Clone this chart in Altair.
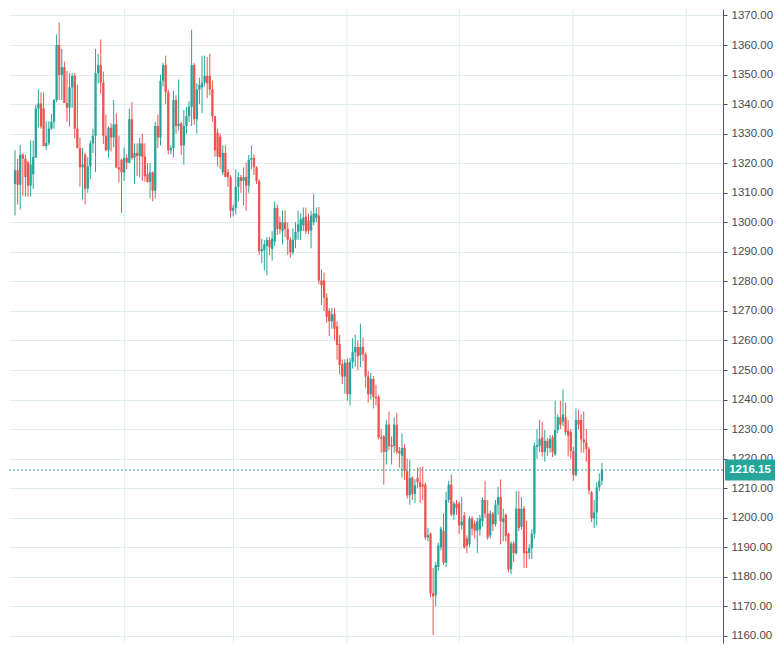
import altair as alt
import pandas as pd

# ---- daily candles, oldest -> newest ----
opens = [
    # segment A
    1313, 1317.6, 1312.7, 1322.9, 1321.5, 1320.3, 1312.4, 1316.3, 1321.9, 1338.5, 1340.2, 1338.5, 1325.8, 1326.8,
    1331.7, 1334, 1341.4, 1360, 1349.9, 1352.5, 1340.4, 1338.8, 1345.7, 1349.6, 1331.7, 1325.1, 1318.6, 1322.8,
    # segment B
    1311.4, 1318.9, 1326.7, 1329.3, 1350.5, 1353.2, 1347.3, 1329.3, 1324.4, 1332, 1328.7, 1333.2, 1318.6, 1321.2,
    1316.9, 1321.8, 1320.2, 1334.9, 1321.8, 1323.5, 1322.4, 1326.7, 1322.2, 1316.3, 1313.7, 1316.9, 1310.7, 1332.6,
    # segment C
    1328.7, 1347.9, 1353.2, 1344, 1324.4, 1325.1, 1341.4, 1332.6, 1333.4, 1326, 1332.6, 1335.9, 1339.1, 1353.2,
    1334.9, 1345, 1345.7, 1347.3, 1349.6, 1349.6, 1345, 1335.9, 1330.3, 1329, 1316.9, 1323.5, 1317, 1315.3, 1303.9,
    # segment D
    1304.9, 1312, 1315.3, 1314, 1315.3, 1312.4, 1321.2, 1321.8, 1318.6, 1314, 1290.2, 1290.5, 1292, 1294, 1291,
    1293.5, 1304.9, 1300, 1297, 1300, 1297.7, 1294.1, 1289.8, 1294.1, 1296.7,
    # segment E
    1297, 1299, 1301.9, 1300.6, 1297.2, 1300, 1301.5, 1302.3, 1280.3, 1280.3, 1274.5, 1270, 1266.5, 1269, 1264.8,
    1258.8, 1252, 1247.8, 1252.5, 1241.8, 1252.7, 1256, 1257.8, 1255, 1257.8, 1255.3, 1247.8, 1241.8, 1247,
    # segment F
    1240.9, 1240.9, 1227.2, 1227.5, 1222.3, 1231.5, 1224.6, 1224.3, 1231.5, 1222.6, 1221, 1223.6, 1215.8, 1207.6,
    1213.5, 1208, 1213.5, 1212, 1211.2, 1211.2, 1193.3, 1194.6, 1174.4, 1173.7, 1183.3, 1190, 1195.6, 1184.8,
    # segment G
    1206, 1211.2, 1201, 1204.8, 1204.8, 1197.4, 1200.8, 1193, 1191, 1199.8, 1198, 1195.6, 1196, 1198.8, 1206,
    1201.4, 1194, 1201.4, 1197.8, 1204.4, 1207, 1198.5, 1201, 1194.6, 1182.5, 1191.3, 1188, 1203.1, 1197, 1203.1,
    1188.6, 1188.1, 1189.7,
    # segment H
    1194.6, 1224, 1224.3, 1227.2, 1222.2, 1226, 1223.6, 1227.2, 1221.5, 1229.7, 1234, 1232.5, 1234, 1229.5, 1229,
    1222.6, 1214.5, 1233.1, 1233.1, 1226.5, 1225.5, 1223.3, 1208.6, 1199.8, 1201.8, 1210.3, 1212.5,
]
highs = [
    1324.4, 1321.5, 1326.2, 1323.5, 1322.9, 1320.8, 1327.7, 1327.7, 1339.8, 1345, 1344, 1344, 1334.2, 1334.2,
    1336.6, 1341.7, 1363.6, 1367.6, 1358.7, 1354.4, 1351.2, 1350.5, 1350.5, 1350.5, 1346.6, 1328.7, 1325.1, 1323.5,
    1322, 1327.7, 1331.7, 1358.7, 1357, 1361.9, 1351, 1336.5, 1332.5, 1333.5, 1341.4, 1336.9, 1329.4, 1321.5,
    1325.4, 1323, 1338.5, 1340.7, 1326.7, 1326.7, 1328.7, 1330, 1326.7, 1320, 1320, 1317.2, 1334, 1336.5,
    1350, 1354, 1356.4, 1345, 1326, 1344.5, 1343, 1348.3, 1334, 1338, 1339, 1341, 1365.2, 1354,
    1347, 1349, 1356.4, 1356.4, 1356, 1357, 1348, 1336, 1331.7, 1330, 1326, 1326, 1318, 1316, 1306,
    1317.9, 1317, 1316, 1318.6, 1320.2, 1322.8, 1326, 1323, 1319, 1314.5, 1294.4, 1294, 1295, 1295, 1297,
    1307, 1306, 1302, 1303.9, 1304, 1300, 1295, 1298, 1300, 1303.9,
    1303, 1305, 1305, 1303, 1303.9, 1309.7, 1305, 1305.2, 1284, 1283, 1276, 1271, 1271, 1271, 1266.5,
    1261.9, 1253.6, 1253.6, 1254, 1254, 1260.8, 1262, 1260, 1265.7, 1261, 1256, 1249.5, 1249, 1248,
    1245, 1241.5, 1230, 1228, 1233, 1236, 1227.5, 1234, 1235.5, 1224, 1228.5, 1225, 1220, 1219.6,
    1214, 1213, 1217, 1217, 1217.4, 1212, 1196.5, 1195, 1183, 1185, 1191.5, 1197, 1201.5, 1208.8,
    1212.5, 1214.6, 1205.5, 1206, 1205.5, 1207, 1202, 1194, 1200.5, 1200.5, 1199, 1200, 1201, 1207, 1212.5,
    1206, 1202.5, 1202, 1206, 1210.5, 1213, 1203, 1201.5, 1195, 1192, 1192, 1209, 1209, 1207, 1204,
    1199, 1191, 1196,
    1225.5, 1230, 1233.1, 1232.4, 1229.7, 1227, 1228, 1228, 1239.6, 1235, 1239.6, 1243.5, 1239, 1233, 1230,
    1224, 1237, 1236.5, 1235, 1236, 1230, 1224, 1209, 1206, 1212, 1215, 1218.5,
]
lows = [
    1302.3, 1306, 1304.3, 1309, 1308.7, 1308.7, 1308.7, 1311.3, 1321.9, 1332, 1331.7, 1325.8, 1324.4, 1326.1,
    1331.3, 1331.7, 1340.7, 1341.4, 1341.4, 1340.4, 1334, 1332.4, 1338.8, 1328.4, 1325.1, 1312.1, 1307.8, 1306,
    1310, 1314.6, 1323.5, 1317, 1347, 1343.5, 1326.5, 1324, 1321.8, 1324, 1325.4, 1318.3, 1313.5, 1303.2,
    1314, 1318, 1320, 1321.2, 1313, 1315.6, 1315.3, 1314, 1313.7, 1313.4, 1308.1, 1307.1, 1308, 1325.1,
    1326, 1346, 1340, 1323, 1323, 1322, 1330, 1331, 1322.8, 1319.5, 1330, 1334, 1332.6, 1333,
    1330, 1340, 1337, 1346, 1342, 1343, 1334, 1322.2, 1318.9, 1318, 1316, 1315.3, 1312, 1301.6, 1302,
    1302.6, 1307, 1310, 1305.8, 1303.9, 1310, 1318, 1316, 1313, 1289, 1286.3, 1283.7, 1282, 1289, 1287,
    1292, 1295.7, 1296, 1292.5, 1295, 1289, 1288, 1289, 1291.2, 1294.1,
    1294, 1297, 1296, 1296, 1291.2, 1299, 1300, 1279, 1272, 1270, 1266, 1261.5, 1264, 1260, 1253.5,
    1248.5, 1245.2, 1242, 1239.6, 1238, 1250.5, 1251, 1250, 1251, 1253, 1244, 1239, 1240, 1237,
    1238, 1226.5, 1222, 1211.2, 1218, 1223, 1218, 1222, 1221.5, 1217, 1213.5, 1212.7, 1206.5, 1204.4,
    1206, 1205, 1210, 1205, 1206, 1192.5, 1192, 1173, 1160.3, 1170, 1182, 1189, 1184, 1183.3,
    1205, 1200.5, 1199.3, 1201, 1194.5, 1196, 1189.5, 1188, 1190, 1194, 1193, 1188, 1194, 1197, 1200,
    1192.5, 1193, 1195.5, 1197, 1201, 1191, 1192, 1192, 1181.5, 1180.9, 1185, 1187.5, 1195.5, 1196, 1183,
    1183, 1186, 1186,
    1193, 1220, 1222.2, 1220.7, 1219, 1221, 1222, 1220.5, 1221, 1228.5, 1230, 1231, 1228, 1220.7, 1220,
    1212.5, 1214, 1230, 1222, 1222, 1219, 1208, 1198.5, 1196.5, 1197.3, 1209, 1211,
]
closes = [
    1317.6, 1312.7, 1322.9, 1321.5, 1315.3, 1312.4, 1319.6, 1322.2, 1338.5, 1340.2, 1332.4, 1325.8, 1326.8, 1331.7,
    1334, 1341.4, 1360, 1349.9, 1352.5, 1340.4, 1338.8, 1345.7, 1349.6, 1331.7, 1325.1, 1318.6, 1319.6, 1311.4,
    1318.9, 1326.7, 1329.3, 1350.5, 1353.2, 1347.3, 1329.3, 1324.4, 1332, 1328.7, 1333.2, 1318.6, 1317.9, 1316.9,
    1321.8, 1320.2, 1334.9, 1321.8, 1323.5, 1322.4, 1326.7, 1322.2, 1315.6, 1313.7, 1316.9, 1310.7, 1332.6, 1328.7,
    1347.9, 1353.2, 1344, 1324.4, 1325.1, 1341.4, 1332.6, 1333.4, 1326, 1332.6, 1335.9, 1339.1, 1353.2, 1334.9,
    1345, 1346.5, 1347.3, 1349.6, 1347, 1345, 1335.9, 1324.4, 1322.2, 1322, 1323.5, 1315.3, 1315.3, 1303.9, 1304.9,
    1312, 1315.3, 1314, 1315.3, 1312.4, 1321.2, 1321.8, 1318.6, 1314, 1290.2, 1290.9, 1292.5, 1294, 1291.5, 1294.4,
    1304.9, 1297.7, 1297.7, 1300, 1297.7, 1294.1, 1289.8, 1294.1, 1296.7, 1299.3,
    1301, 1301.6, 1297, 1297.2, 1302.3, 1303, 1303, 1280.3, 1278.7, 1274.5, 1268, 1266.5, 1268.8, 1264, 1258.5,
    1251.7, 1247.8, 1252.5, 1241.8, 1252.7, 1256.2, 1257.8, 1254.6, 1257.8, 1255.3, 1247.8, 1241.8, 1247, 1240.9,
    1240.4, 1227.2, 1226.8, 1222.3, 1231.5, 1224.3, 1224, 1231.5, 1222.3, 1221.8, 1223.6, 1215.8, 1207.6, 1213.5,
    1208, 1211, 1212, 1210.4, 1210.6, 1193.3, 1194.1, 1174.4, 1173.4, 1184, 1190.6, 1196.3, 1184.8, 1206,
    1211.2, 1201.1, 1204.8, 1203.2, 1197.4, 1198.8, 1190, 1190.5, 1199.8, 1196.3, 1195.6, 1198.8, 1199.8, 1206,
    1201.4, 1193.3, 1201.4, 1197.8, 1204.4, 1207, 1198.8, 1199.8, 1193.9, 1182.5, 1191.3, 1188, 1203.1, 1196.5,
    1203.1, 1188.1, 1188, 1189.7, 1194.6,
    1224.3, 1224.6, 1226.6, 1222.2, 1226, 1223.6, 1226.6, 1222.2, 1229.7, 1234, 1231.5, 1235, 1229, 1227.8, 1222.6,
    1214.5, 1233.1, 1231.5, 1226.5, 1225.5, 1223.3, 1209.3, 1199.8, 1201.8, 1210.3, 1212.5, 1216.15,
]

last_price = [1216.15]
y_ticks = list(range(1160, 1371, 10))
month_lines = [42.2, 84.1, 127.8, 171.1, 214.8, 258.5]   # vertical time grid (bar index)

n = min(len(opens), len(highs), len(lows), len(closes))
df = pd.DataFrame({
    "i": list(range(n)),
    "open": opens[:n],
    "high": [max(h, o, c) for h, o, c in zip(highs[:n], opens[:n], closes[:n])],
    "low": [min(l, o, c) for l, o, c in zip(lows[:n], opens[:n], closes[:n])],
    "close": closes[:n],
})
df["dir"] = ["up" if c >= o else "down" for o, c in zip(df["open"], df["close"])]

W, H = 714, 634
UP, DOWN = "#26a69a", "#ef5350"
GRID = "#e1ecf2"

x_scale = alt.Scale(domain=[-0.4, 270.7], nice=False, zero=False)
y_scale = alt.Scale(domain=[1157.6, 1372.2], nice=False, zero=False)
y_axis = alt.Axis(
    orient="right", values=y_ticks, format=".2f", title=None,
    grid=True, gridColor=GRID, gridWidth=1,
    domain=True, domainColor="#50535e", ticks=True, tickColor="#50535e", tickSize=4,
    labelPadding=4, labelColor="#4a4a4a", labelFont="Liberation Sans", labelFontSize=11.5,
    labelOverlap=False,
)
color = alt.Color("dir:N", scale=alt.Scale(domain=["up", "down"], range=[UP, DOWN]), legend=None)

vgrid = alt.Chart(pd.DataFrame({"g": month_lines})).mark_rule(color=GRID, strokeWidth=1).encode(
    x=alt.X("g:Q", scale=x_scale, axis=None)
)

base = alt.Chart(df)
wicks = base.mark_rule(strokeWidth=1).encode(
    x=alt.X("i:Q", scale=x_scale, axis=None),
    y=alt.Y("low:Q", scale=y_scale, axis=y_axis),
    y2="high:Q",
    color=color,
)
bodies = base.mark_bar(size=2.3).encode(
    x=alt.X("i:Q", scale=x_scale, axis=None),
    y=alt.Y("open:Q", scale=y_scale, axis=y_axis),
    y2="close:Q",
    color=color,
)

pdf = pd.DataFrame({"p": last_price})
price_line = alt.Chart(pdf).mark_rule(color=UP, strokeDash=[2, 2], strokeWidth=1).encode(
    y=alt.Y("p:Q", scale=y_scale, axis=y_axis)
)
price_box = alt.Chart(pdf).mark_point(
    shape="M-1,-0.42L1,-0.42L1,0.42L-1,0.42Z", filled=True, size=2500,
    color=UP, opacity=1, strokeWidth=0,
).encode(
    x=alt.value(W + 27),
    y=alt.Y("p:Q", scale=y_scale, axis=y_axis),
)
price_text = alt.Chart(pdf).mark_text(
    color="white", fontWeight="bold", fontSize=11.5, font="Liberation Sans",
    align="center", baseline="middle",
).encode(
    x=alt.value(W + 27),
    y=alt.Y("p:Q", scale=y_scale, axis=y_axis),
    text=alt.Text("p:Q", format=".2f"),
)

chart = alt.layer(vgrid, wicks, bodies, price_line, price_box, price_text).properties(
    width=W, height=H, padding=0, background="white"
).configure_view(stroke=None)

chart.save("out.html", embed_options={"renderer": "svg", "actions": False})
